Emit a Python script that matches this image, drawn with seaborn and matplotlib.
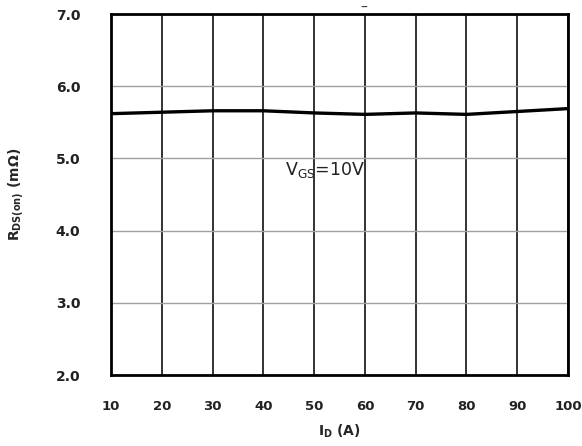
import matplotlib
matplotlib.use("Agg")
import matplotlib.pyplot as plt
import seaborn as sns
import pandas as pd

current_a = [10, 20, 30, 40, 50, 60, 70, 80, 90, 100]
rds_on = [5.62, 5.64, 5.66, 5.66, 5.63, 5.61, 5.63, 5.61, 5.65, 5.69]
x_ticks = [10, 20, 30, 40, 50, 60, 70, 80, 90, 100]
y_ticks = [2.0, 3.0, 4.0, 5.0, 6.0, 7.0]

sns.set_theme(style="white")
plt.rcParams['font.family'] = ['DejaVu Sans']

fig = plt.figure(figsize=(5.82, 4.46), dpi=100)
ax = fig.add_axes([0.1907, 0.159, 0.7853, 0.8096])

df = pd.DataFrame({"I": current_a, "R": rds_on})

for x in x_ticks:
    ax.axvline(x, color="#222222", lw=1.3, zorder=1)
for y in y_ticks:
    ax.axhline(y, color="#a0a0a0", lw=1.0, zorder=1)

sns.lineplot(data=df, x="I", y="R", ax=ax, color="black", lw=2.4, zorder=3)

ax.set_xlim(10, 100)
ax.set_ylim(2.0, 7.0)
ax.set_xticks(x_ticks)
ax.set_yticks(y_ticks)
ax.set_xticklabels([str(v) for v in x_ticks], fontsize=9.5, fontweight="bold", color="#222222")
ax.set_yticklabels([f"{v:.1f}" for v in y_ticks], fontsize=10, fontweight="bold", color="#222222")
ax.tick_params(axis="x", length=0, pad=18)
ax.tick_params(axis="y", length=0, pad=22)

for s in ax.spines.values():
    s.set_visible(True)
    s.set_color("black")
    s.set_linewidth(2.0)

ax.set_xlabel(r"I$_\mathbf{D}$ (A)", fontsize=10, fontweight="bold", labelpad=7)
ax.set_ylabel(r"R$_\mathbf{DS(on)}$ (m$\mathbf{\Omega}$)", fontsize=10, fontweight="bold")
ax.yaxis.set_label_coords(-0.186, 0.5)

ax.text(44.3, 4.84, r"V$_{\mathrm{GS}}$=10V", fontsize=12.5, ha="left", va="center", color="#222222")
ax.text(59.8, 7.09, "–", fontsize=10, ha="center", va="center", color="#333333")

fig.savefig("out.png", dpi=100)
